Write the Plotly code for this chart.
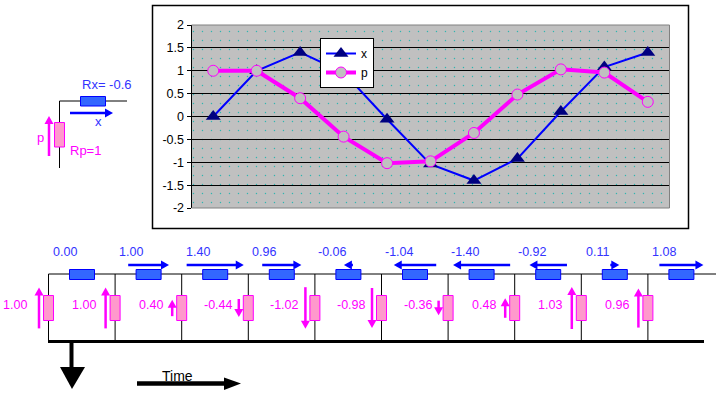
import plotly.graph_objects as go

# ---- data ----
samples = list(range(1, 12))
x_series = [0.00, 1.00, 1.40, 0.96, -0.06, -1.04, -1.40, -0.92, 0.11, 1.08, 1.40]
p_series = [1.00, 1.00, 0.40, -0.44, -1.02, -0.98, -0.36, 0.48, 1.03, 0.96, 0.32]
x_labels = ["0.00", "1.00", "1.40", "0.96", "-0.06", "-1.04", "-1.40", "-0.92", "0.11", "1.08"]
p_labels = ["1.00", "1.00", "0.40", "-0.44", "-1.02", "-0.98", "-0.36", "0.48", "1.03", "0.96"]
y_ticks = [2, 1.5, 1, 0.5, 0, -0.5, -1, -1.5, -2]
y_tick_text = ["2", "1.5", "1", "0.5", "0", "-0.5", "-1", "-1.5", "-2"]

# ---- styles ----
W, H = 717, 393
BLUE = "#0000FF"
TXT_BLUE = "#3333FF"
MAG = "#FF00FF"
FONT = "Liberation Sans"
STEP = 66.6

fig = go.Figure()
shapes = []
notes = []


def rect(x0, y0, x1, y1, fill, line, w=1):
    shapes.append(dict(type="rect", xref="x", yref="y", x0=x0, y0=y0, x1=x1, y1=y1,
                       fillcolor=fill, line=dict(color=line, width=w)))


def seg(x0, y0, x1, y1, color="black", w=1):
    shapes.append(dict(type="line", xref="x", yref="y", x0=x0, y0=y0, x1=x1, y1=y1,
                       line=dict(color=color, width=w)))


def poly(pts, color):
    path = "M" + " L".join(f"{a},{b}" for a, b in pts) + " Z"
    shapes.append(dict(type="path", xref="x", yref="y", path=path, fillcolor=color,
                       line=dict(color=color, width=0)))


def text(cx, cy, s, color, size=12.5):
    notes.append(dict(xref="x", yref="y", x=cx, y=cy, text=s, showarrow=False,
                      font=dict(family=FONT, size=size, color=color),
                      xanchor="center", yanchor="middle"))


def h_arrow(cx, y, half, color=BLUE):
    """horizontal arrow, signed half-length about cx"""
    if half == 0:
        return
    d = 1 if half > 0 else -1
    tip = cx + half
    seg(cx - half, y, tip - d * 4, y, color, 2.5)
    poly([(tip, y), (tip - d * 8, y - 4.5), (tip - d * 8, y + 4.5)], color)


def v_arrow(x, cy, half, color=MAG):
    """vertical arrow, positive value points up"""
    if half == 0:
        return
    d = 1 if half > 0 else -1
    tip = cy - half
    seg(x, cy + half, x, tip + d * 4, color, 2.5)
    poly([(x, tip), (x - 4.5, tip + d * 8), (x + 4.5, tip + d * 8)], color)


# Background panel of the chart, dotted, in the pixel-space axes
fig.add_trace(go.Bar(
    x=[430.5], y=[183], base=[25], width=[478], xaxis="x", yaxis="y", showlegend=False,
    hoverinfo="skip",
    marker=dict(color="#C0C0C0", line=dict(width=0),
                pattern=dict(shape=".", size=9, solidity=0.02,
                             fgcolor="#2FB5B0", bgcolor="#C0C0C0", fillmode="replace")),
))

# Chart frame
rect(152.5, 5.5, 688.5, 228.5, "rgba(0,0,0,0)", "black", 1.5)

# Single-cell schematic, upper left
seg(59.5, 101, 127, 101)
seg(59.5, 101, 59.5, 168)
rect(80.5, 96.5, 105.5, 106, "#3366FF", BLUE)
rect(54.5, 122.5, 64.5, 147, "#FF99CC", MAG)
h_arrow(91.5, 113, 21.5)
v_arrow(49, 136, 20)
text(107, 84, "Rx= -0.6", TXT_BLUE, 13)
text(98, 121, "x", TXT_BLUE, 13)
text(40, 137, "p", MAG, 13)
text(85, 150, "Rp=1", MAG, 13)

# Ladder schematic, lower part
seg(48.5, 274, 716, 274)
seg(48, 341.5, 704, 341.5, "black", 3)
K = 20.4
for i in range(10):
    vx = 48.5 + STEP * i
    seg(vx, 274, vx, 341)
    rect(vx - 5, 295.5, vx + 5, 320.5, "#FF99CC", MAG)
    bx = 82 + STEP * i
    rect(bx - 12.5, 269.5, bx + 12.5, 279.5, "#3366FF", BLUE)
    v = x_series[i]
    half = v * K
    if v != 0 and abs(half) < 4.5:
        half = 4.5 if v > 0 else -4.5
    h_arrow(bx, 265, half)
    v_arrow(vx - 9.5, 308, p_series[i] * K)
    text(64.5 + STEP * i + (1.5 if x_labels[i].startswith("-") else 0), 252, x_labels[i], TXT_BLUE)
    text(17.5 + STEP * i + (1 if p_labels[i].startswith("-") else 0) - (2.5 if i == 0 else 0), 305, p_labels[i], MAG)

# Big arrows
seg(71.5, 341, 71.5, 368, "black", 4)
poly([(60, 367), (85, 367), (72, 389)], "black")
seg(137, 383.5, 224, 383.5, "black", 4.5)
poly([(241, 383.5), (224, 377.5), (224, 390)], "black")
text(177, 376, "Time", "black", 14)

# Chart series
fig.add_trace(go.Scatter(
    x=samples, y=x_series, name="x", mode="lines+markers", xaxis="x2", yaxis="y2",
    line=dict(color=BLUE, width=2),
    marker=dict(symbol="triangle-up", size=13, color="#000080", line=dict(color=BLUE, width=0)),
))
fig.add_trace(go.Scatter(
    x=samples, y=p_series, name="p", mode="lines+markers", xaxis="x2", yaxis="y2",
    line=dict(color=MAG, width=4),
    marker=dict(symbol="circle", size=11, color="#C0C0C0", line=dict(color=MAG, width=1)),
))

fig.update_layout(
    width=W, height=H, margin=dict(l=0, r=0, t=0, b=0, autoexpand=False),
    paper_bgcolor="white", plot_bgcolor="rgba(0,0,0,0)",
    font=dict(family=FONT, size=12, color="black"),
    xaxis=dict(domain=[0, 1], range=[0, W], visible=False, fixedrange=True),
    yaxis=dict(domain=[0, 1], range=[H, 0], visible=False, fixedrange=True),
    xaxis2=dict(domain=[191.5 / W, 669.5 / W], range=[0.5, 11.5], anchor="y2",
                showgrid=False, zeroline=False, showticklabels=False, ticks="",
                showline=False, fixedrange=True),
    yaxis2=dict(domain=[1 - 208 / H, 1 - 25 / H], range=[-2, 2], anchor="x2",
                tickvals=y_ticks, ticktext=y_tick_text, ticks="outside", ticklen=4,
                tickcolor="black", showline=True, linecolor="black", linewidth=1,
                showgrid=True, gridcolor="black", gridwidth=1, zeroline=False,
                tickfont=dict(family=FONT, size=12.5, color="black"), fixedrange=True),
    legend=dict(x=320 / W, y=1 - 38 / H, xanchor="left", yanchor="top",
                bgcolor="white", bordercolor="black", borderwidth=1,
                font=dict(family=FONT, size=12, color="black"),
                itemwidth=30, entrywidth=8, entrywidthmode="pixels", tracegroupgap=0),
    shapes=shapes, annotations=notes, bargap=0,
)
seg_extra = [
    dict(type="line", xref="x", yref="y", x0=669.5, y0=25, x1=669.5, y1=208, line=dict(color="#808080", width=1)),
    dict(type="line", xref="x", yref="y", x0=191.5, y0=208, x1=669.5, y1=208, line=dict(color="#808080", width=1)),
    dict(type="line", xref="x", yref="y", x0=191.5, y0=25, x1=669.5, y1=25, line=dict(color="#808080", width=1)),
]
fig.update_layout(shapes=list(fig.layout.shapes) + seg_extra)

fig.write_html("out.html", config={"displayModeBar": False},
               post_script="document.body.style.margin='0';")
